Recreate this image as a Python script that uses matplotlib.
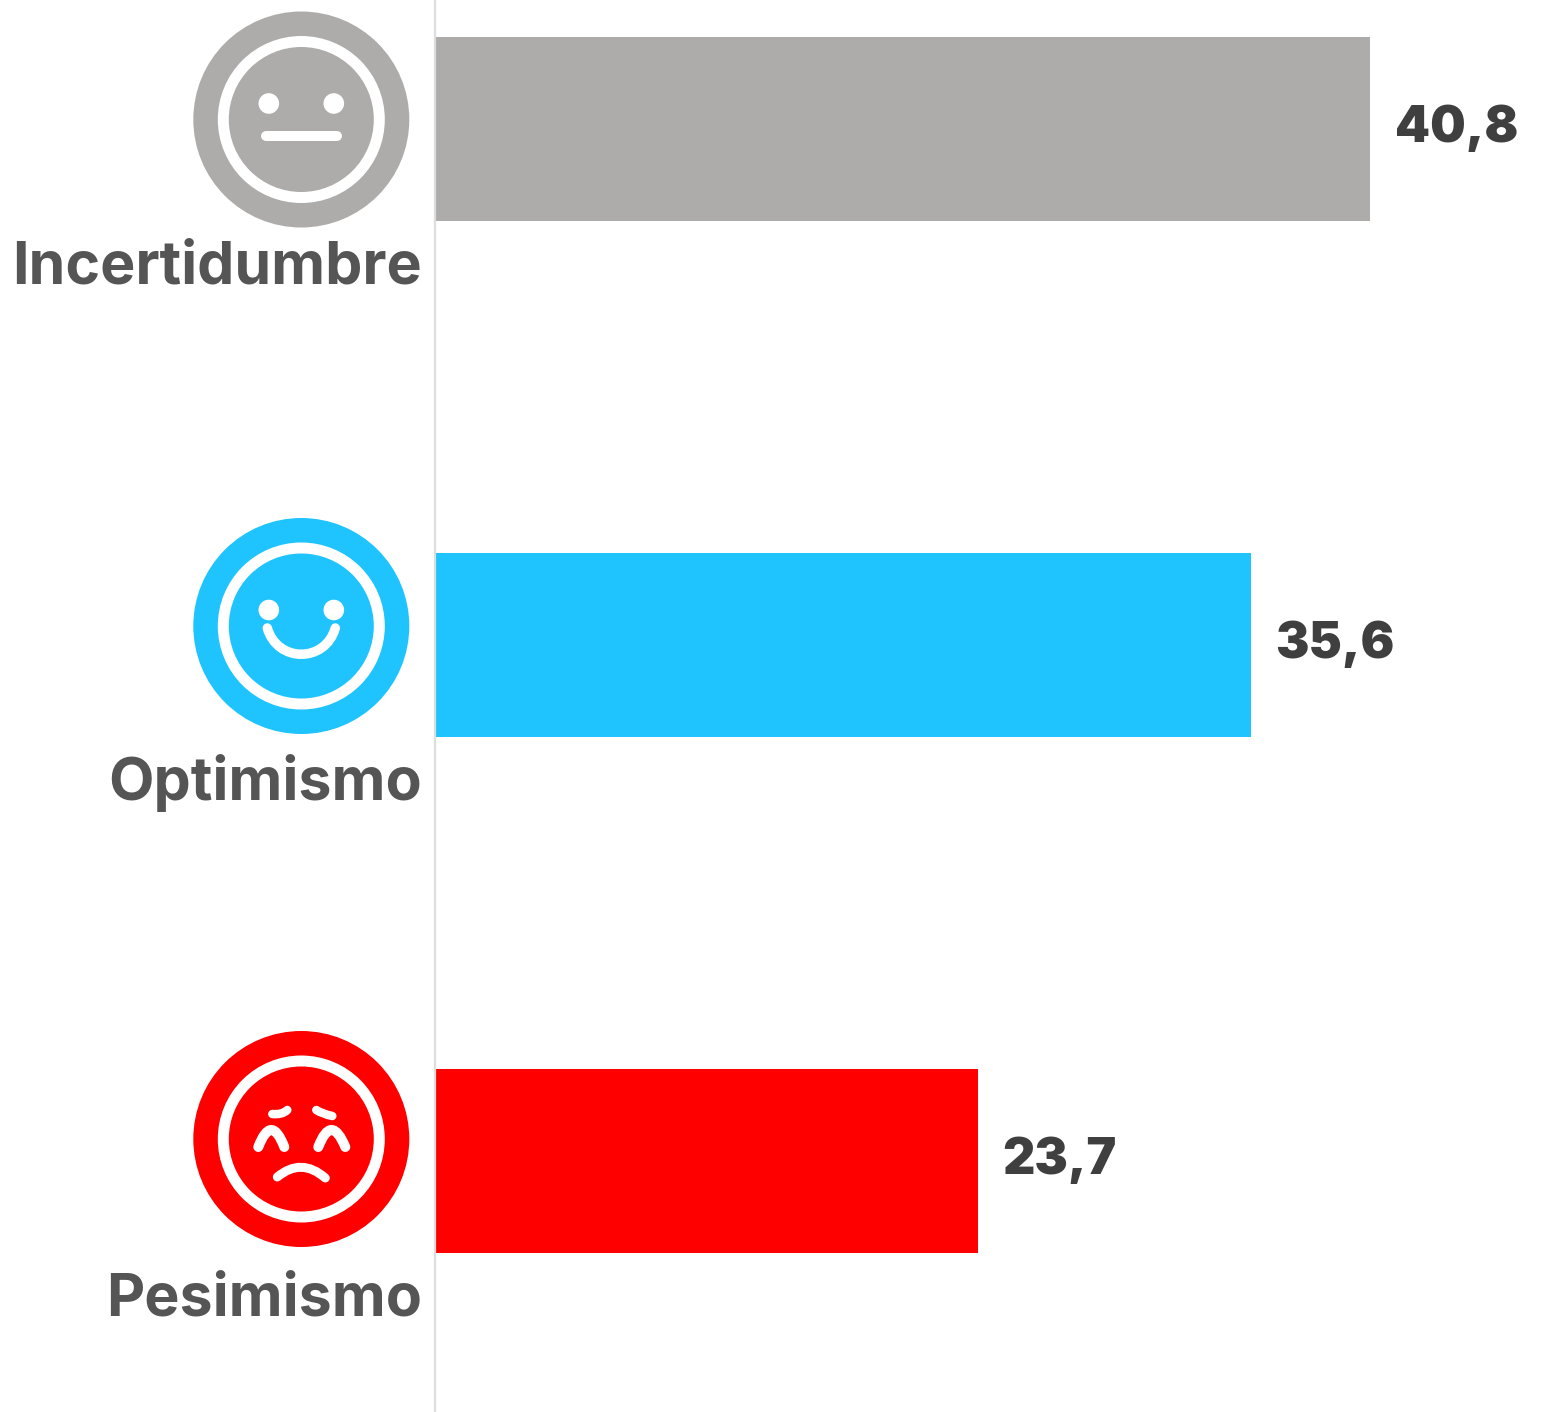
import matplotlib
matplotlib.use("Agg")
import matplotlib.pyplot as plt
from matplotlib.patches import Circle, PathPatch
from matplotlib.path import Path

categories = ["Incertidumbre", "Optimismo", "Pesimismo"]
values = [40.8, 35.6, 23.7]
value_labels = ["40,8", "35,6", "23,7"]
colors = ["#ADACAA", "#1FC4FF", "#FF0000"]

W, H = 1541, 1412
fig = plt.figure(figsize=(W / 100, H / 100), dpi=100, facecolor="white")

ppu = 22.92
ax = fig.add_axes([0, 0, 1, 1])
ax.set_xlim(-435 / ppu, (W - 435) / ppu)
step = 516.0
ax.set_ylim((H - 129) / step, -129 / step)
ax.axis("off")
ypos = list(range(len(categories)))
ax.barh(ypos, values, height=183.2 / step, color=colors, linewidth=0, zorder=2)
ax.axvline(0, color="#DDDDDD", lw=1.6, zorder=3)

for y, v, lab, cat in zip(ypos, values, value_labels, categories):
    ax.annotate(lab, (v, y), xytext=(24.5 * 0.72, -12.5 * 0.72), textcoords="offset points",
                ha="left", va="baseline", family="Inter", weight="black",
                fontsize=36, color="#3F3F3F")
    ax.annotate(cat, (0, y), xytext=(-13 * 0.72, -155 * 0.72), textcoords="offset points",
                ha="right", va="baseline", family="Inter", weight="bold",
                fontsize=42.5, color="#555555")

ov = fig.add_axes([0, 0, 1, 1])
ov.set_xlim(0, W)
ov.set_ylim(H, 0)
ov.axis("off")
ov.patch.set_alpha(0)

LW = 0.72


def stroke(cx, cy, pts, width=9.5):
    verts = [(cx + a, cy + b) for a, b in pts]
    if len(pts) == 2:
        codes = [Path.MOVETO, Path.LINETO]
    elif len(pts) == 3:
        codes = [Path.MOVETO, Path.CURVE3, Path.CURVE3]
    else:
        codes = [Path.MOVETO, Path.CURVE4, Path.CURVE4, Path.CURVE4]
    ov.add_patch(PathPatch(Path(verts, codes), fc="none", ec="white", lw=width * LW,
                           capstyle="round", zorder=5))


def face(cx, cy, color):
    ov.add_patch(Circle((cx, cy), 108, fc=color, ec="none", zorder=3))
    ov.add_patch(Circle((cx, cy), 83.5, fc="white", ec="none", zorder=4))
    ov.add_patch(Circle((cx, cy), 72.5, fc=color, ec="none", zorder=4))


cx = 301.3
cy = 119.5
face(cx, cy, colors[0])
for s in (-1, 1):
    ov.add_patch(Circle((cx + s * 32.5, cy - 16), 10.3, fc="white", ec="none", zorder=5))
stroke(cx, cy, [(-35, 16.5), (36, 16.5)], 10)

cy = 626
face(cx, cy, colors[1])
for s in (-1, 1):
    ov.add_patch(Circle((cx + s * 32.5, cy - 16), 10.3, fc="white", ec="none", zorder=5))
stroke(cx, cy, [(-34, 2), (-24, 37), (24, 37), (34, 2)])

cy = 1139
face(cx, cy, colors[2])
stroke(cx, cy, [(-29, -25), (-19, -24), (-14, -29)], 8.5)
stroke(cx, cy, [(15, -29), (21, -25), (31, -23)], 8.5)
stroke(cx, cy, [(-43, 8), (-30, -26), (-17, 8)], 10)
stroke(cx, cy, [(17, 8), (30, -26), (44, 8)], 10)
stroke(cx, cy, [(-24, 38), (0, 18), (24, 39)], 9)

fig.savefig("out.png", dpi=100)
